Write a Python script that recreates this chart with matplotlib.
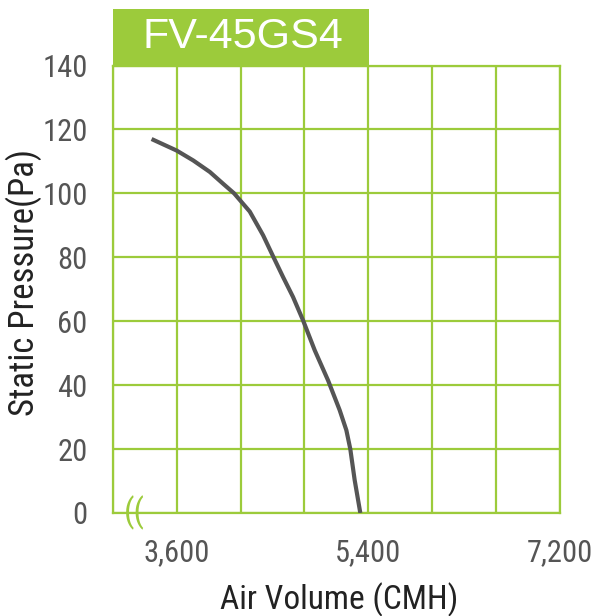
import matplotlib
matplotlib.use("Agg")
import matplotlib.pyplot as plt
import matplotlib.patches as patches
from matplotlib import font_manager

# data
air_volume = [3365, 3600, 3756, 3912, 4037, 4140, 4287, 4412, 4506, 4600,
              4693, 4787, 4897, 5022, 5131, 5194, 5231, 5272, 5325]
static_pressure = [117, 113.4, 110.3, 106.7, 103, 100, 94.3, 86.9, 80.3, 73.8,
                   67.6, 60.3, 50.9, 41.5, 32.2, 25.9, 20, 10.3, 0]

x_ticks = [3000, 3600, 4200, 4800, 5400, 6000, 6600, 7200]
x_tick_labels = ["", "3,600", "", "", "5,400", "", "", "7,200"]
y_ticks = [0, 20, 40, 60, 80, 100, 120, 140]
model = "FV-45GS4"

green = "#9ccb3b"

# pick a condensed face if one is installed
installed = set(f.name for f in font_manager.fontManager.ttflist)
narrow = "Liberation Sans"
for cand in ["Liberation Sans Narrow", "Roboto Condensed", "DejaVu Sans Condensed", "Open Sans Condensed"]:
    if cand in installed:
        narrow = cand
        break
condensed = narrow != "Liberation Sans"
k = 1.0 if condensed else 0.85
fam = [narrow, "DejaVu Sans"]

fig = plt.figure(figsize=(5.92, 6.16), dpi=100)
ax = fig.add_axes([112.7 / 592, 1 - 513 / 616, (560 - 112.7) / 592, (513 - 65.5) / 616])

ax.plot(air_volume, static_pressure, color="#555555", lw=3.0, solid_capstyle="butt",
        solid_joinstyle="round", zorder=3)

ax.set_xlim(3000, 7200)
ax.set_ylim(0, 140)
ax.set_xticks(x_ticks)
ax.set_xticklabels(x_tick_labels)
ax.set_yticks(y_ticks)
ax.grid(True, color=green, lw=1.6)
ax.set_axisbelow(True)
for s in ax.spines.values():
    s.set_color(green)
    s.set_linewidth(1.6)

ax.tick_params(length=0, labelsize=22 * k, labelcolor="#555555")
ax.tick_params(axis="x", pad=18)
ax.tick_params(axis="y", pad=18)
for lbl in ax.get_xticklabels() + ax.get_yticklabels():
    lbl.set_family(fam)

ax.set_xlabel("Air Volume (CMH)", fontsize=24 * k, color="#222222", family=fam, va="center")
ax.xaxis.set_label_coords((339.5 - 112.7) / 447.3, (513 - 600) / 447.5)
ax.set_ylabel("Static Pressure(Pa)", fontsize=25 * k, color="#222222", family=fam, va="center")
ax.yaxis.set_label_coords((24 - 112.7) / 447.3, (513 - 283) / 447.5)

# axis break mark
ax.text(3200, 0, "((", color=green, fontsize=24, family=fam, ha="center", va="center",
        clip_on=False, zorder=4)

# model title box
box = patches.Rectangle((112.7 / 592, 1 - 65.5 / 616), (369 - 112.7) / 592, (65.5 - 9) / 616,
                        transform=fig.transFigure, facecolor=green, edgecolor="none")
fig.patches.append(box)
fig.text(242.5 / 592, 1 - 37 / 616, model, color="white", fontsize=31,
         family=["Liberation Sans", "DejaVu Sans"], ha="center", va="center")

plt.savefig("out.png", dpi=100)
